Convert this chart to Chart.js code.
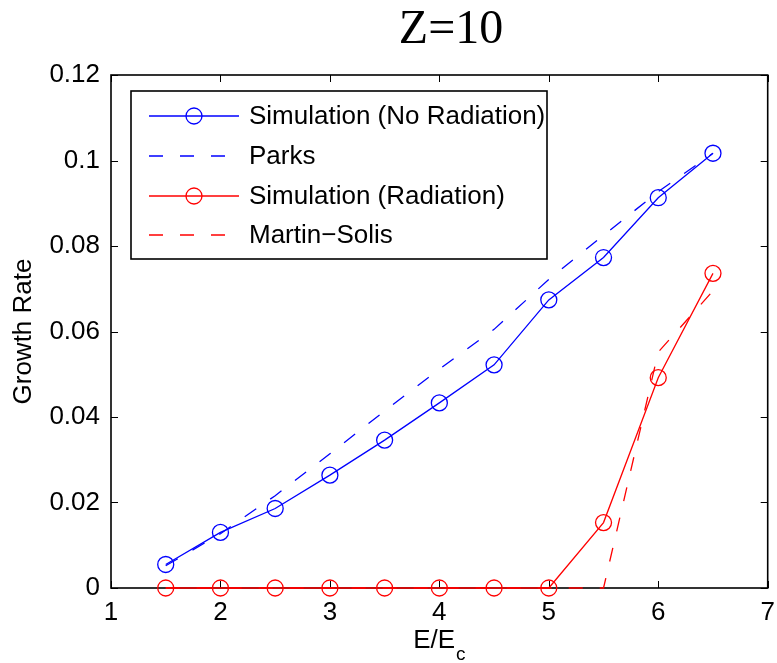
<!DOCTYPE html>
<html>
<head>
<meta charset="utf-8">
<script src="https://cdn.jsdelivr.net/npm/chart.js@4"></script>
<style>
  html, body { margin: 0; padding: 0; background: #ffffff; }
  #c { display: block; }
</style>
</head>
<body>
<canvas id="c" width="777" height="663"></canvas>
<script>
// ---- data ----
const xValues      = [1.5, 2, 2.5, 3, 3.5, 4, 4.5, 5, 5.5, 6, 6.5];
const simNoRad     = [0.0055, 0.0130, 0.0186, 0.0264, 0.0346, 0.0433, 0.0522, 0.0674, 0.0773, 0.0913, 0.1017];
const parks        = [0.0052, 0.0127, 0.0216, 0.0314, 0.0414, 0.0512, 0.0605, 0.0722, 0.0825, 0.0927, 0.1017];
const simRad       = [0, 0, 0, 0, 0, 0, 0, 0, 0.0153, 0.0492, 0.0736];
const martinSolis  = [0, 0, 0, 0, 0, 0, 0, 0, 0, 0.0552, 0.0695];
const seriesNames  = ['Simulation (No Radiation)', 'Parks', 'Simulation (Radiation)', 'Martin\u2212Solis'];
const xTicks       = [1, 2, 3, 4, 5, 6, 7];
const xTickLabels  = ['1', '2', '3', '4', '5', '6', '7'];
const yTicks       = [0, 0.02, 0.04, 0.06, 0.08, 0.1, 0.12];
const yTickLabels  = ['0', '0.02', '0.04', '0.06', '0.08', '0.1', '0.12'];
const titleText    = 'Z=10';
const xTitleMain   = 'E/E';
const xTitleSub    = 'c';
const yTitleText   = 'Growth Rate';

const BLUE = '#0000ff';
const RED = '#ff0000';
const FONT = '"Liberation Sans", Arial, Helvetica, sans-serif';

function pts(ys) { return xValues.map((x, i) => ({ x: x, y: ys[i] })); }

const datasets = [
  { label: seriesNames[0], data: pts(simNoRad), borderColor: BLUE, borderWidth: 1.3,
    pointStyle: 'circle', pointRadius: 8, pointBorderWidth: 1.3, pointBorderColor: BLUE,
    pointBackgroundColor: 'rgba(0,0,0,0)', order: 3, _dash: false, _marker: true },
  { label: seriesNames[1], data: pts(parks), borderColor: BLUE, borderWidth: 1.3,
    borderDash: [14, 17], pointRadius: 0, order: 2, _dash: true, _marker: false },
  { label: seriesNames[2], data: pts(simRad), borderColor: RED, borderWidth: 1.3,
    pointStyle: 'circle', pointRadius: 8, pointBorderWidth: 1.3, pointBorderColor: RED,
    pointBackgroundColor: 'rgba(0,0,0,0)', order: 1, _dash: false, _marker: true },
  { label: seriesNames[3], data: pts(martinSolis), borderColor: RED, borderWidth: 1.3,
    borderDash: [14, 17], pointRadius: 0, order: 0, _dash: true, _marker: false }
];
datasets.forEach(d => { d.fill = false; d.tension = 0; d.clip = false; d.showLine = true; });

const framePlugin = {
  id: 'frame',
  beforeDatasetsDraw(chart) {
    const ctx = chart.ctx;
    const a = chart.chartArea;
    const xs = chart.scales.x, ys = chart.scales.y;
    ctx.save();
    ctx.strokeStyle = '#000';
    ctx.lineWidth = 1;
    const tl = 7;
    ctx.beginPath();
    xTicks.forEach(v => {
      const px = Math.round(xs.getPixelForValue(v)) + 0.5;
      ctx.moveTo(px, a.bottom); ctx.lineTo(px, a.bottom - tl);
      ctx.moveTo(px, a.top); ctx.lineTo(px, a.top + tl);
    });
    yTicks.forEach(v => {
      const py = Math.round(ys.getPixelForValue(v)) + 0.5;
      ctx.moveTo(a.left, py); ctx.lineTo(a.left + tl, py);
      ctx.moveTo(a.right, py); ctx.lineTo(a.right - tl, py);
    });
    ctx.stroke();
    ctx.lineWidth = 1.6;
    ctx.strokeRect(a.left, a.top, a.right - a.left, a.bottom - a.top);
    ctx.restore();
  },
  afterDatasetsDraw(chart) {
    const ctx = chart.ctx;
    const a = chart.chartArea;
    ctx.save();
    // legend box
    const bx = 131, by = 91, bw = 416, bh = 168;
    ctx.fillStyle = '#fff';
    ctx.fillRect(bx, by, bw, bh);
    ctx.strokeStyle = '#000';
    ctx.lineWidth = 1.6;
    ctx.strokeRect(bx, by, bw, bh);
    const rows = [116, 156, 196, 235];
    chart.data.datasets.forEach((d, i) => {
      const y = rows[i];
      ctx.strokeStyle = d.borderColor;
      ctx.lineWidth = 1.3;
      ctx.setLineDash(d._dash ? [14, 17] : []);
      ctx.beginPath();
      ctx.moveTo(149, y); ctx.lineTo(239, y);
      ctx.stroke();
      ctx.setLineDash([]);
      if (d._marker) {
        ctx.beginPath();
        ctx.arc(194, y, 8, 0, Math.PI * 2);
        ctx.stroke();
      }
      ctx.fillStyle = '#000';
      ctx.font = '26px ' + FONT;
      ctx.textAlign = 'left';
      ctx.textBaseline = 'middle';
      ctx.fillText(d.label, 249, y + 1);
    });
    // title
    ctx.fillStyle = '#000';
    ctx.font = '48px "Liberation Serif", "Times New Roman", serif';
    ctx.textAlign = 'center';
    ctx.textBaseline = 'alphabetic';
    ctx.fillText(titleText, 451, 43);
    // x axis title with subscript
    ctx.font = '26px ' + FONT;
    const wMain = ctx.measureText(xTitleMain).width;
    ctx.font = '19px ' + FONT;
    const wSub = ctx.measureText(xTitleSub).width;
    const cx = (a.left + a.right) / 2;
    const startX = cx - (wMain + wSub + 1) / 2;
    ctx.textAlign = 'left';
    ctx.font = '26px ' + FONT;
    ctx.fillText(xTitleMain, startX, 648);
    ctx.font = '19px ' + FONT;
    ctx.fillText(xTitleSub, startX + wMain + 1, 660);
    // y axis title
    ctx.font = '26px ' + FONT;
    ctx.translate(24, (a.top + a.bottom) / 2);
    ctx.rotate(-Math.PI / 2);
    ctx.textAlign = 'center';
    ctx.textBaseline = 'middle';
    ctx.fillText(yTitleText, 0, 0);
    ctx.restore();
  }
};

new Chart(document.getElementById('c'), {
  type: 'line',
  data: { datasets: datasets },
  options: {
    responsive: false,
    devicePixelRatio: 1,
    animation: false,
    layout: { padding: { top: 75, right: 5.5, bottom: 0, left: 0 } },
    plugins: { legend: { display: false }, title: { display: false }, tooltip: { enabled: false } },
    scales: {
      x: {
        type: 'linear', min: 1, max: 7,
        afterBuildTicks(s) { s.ticks = xTicks.map(v => ({ value: v })); },
        afterFit(s) { s.height = 75; s.paddingLeft = 0; s.paddingRight = 0; },
        grid: { display: false, drawTicks: false },
        border: { display: false },
        ticks: {
          color: '#000', padding: 9, maxRotation: 0, autoSkip: false,
          font: { family: FONT, size: 26 },
          callback(v) { const i = xTicks.indexOf(v); return i >= 0 ? xTickLabels[i] : ''; }
        }
      },
      y: {
        type: 'linear', min: 0, max: 0.12,
        afterBuildTicks(s) { s.ticks = yTicks.map(v => ({ value: v })); },
        afterFit(s) { s.width = 111; s.paddingTop = 0; s.paddingBottom = 0; },
        grid: { display: false, drawTicks: false },
        border: { display: false },
        ticks: {
          color: '#000', padding: 11, autoSkip: false,
          font: { family: FONT, size: 26 },
          callback(v) { const i = yTicks.findIndex(t => Math.abs(t - v) < 1e-9); return i >= 0 ? yTickLabels[i] : ''; }
        }
      }
    }
  },
  plugins: [framePlugin]
});
</script>
</body>
</html>
